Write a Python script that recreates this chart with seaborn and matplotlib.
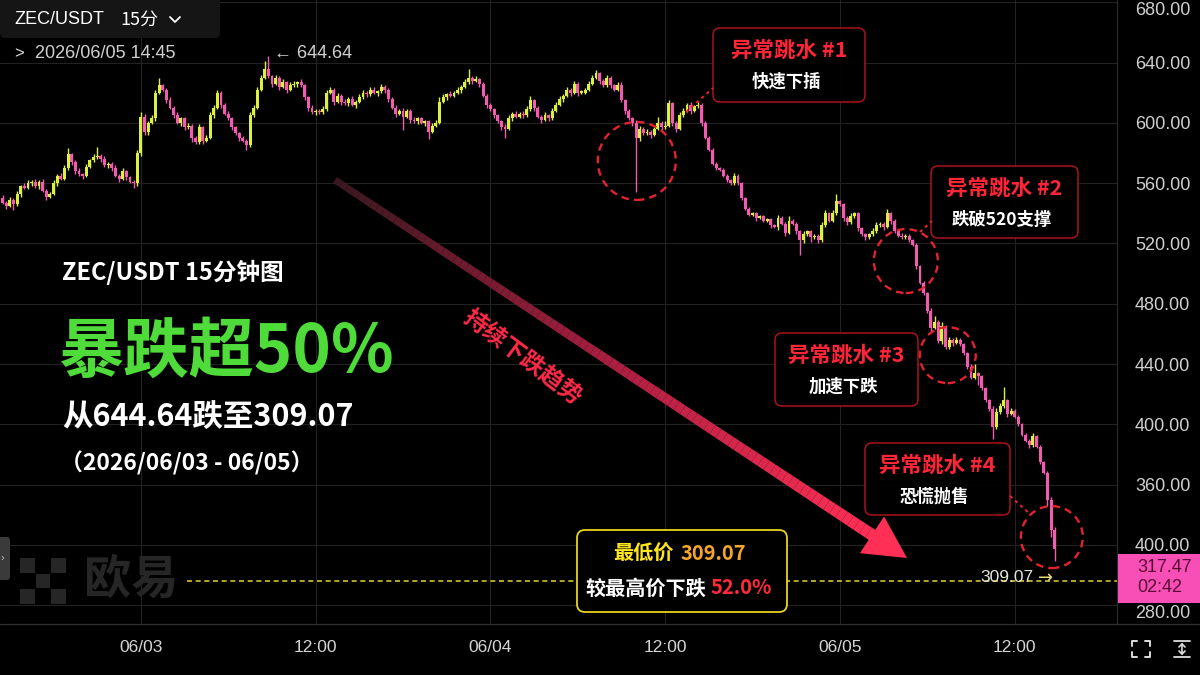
import numpy as np
import pandas as pd
import matplotlib
matplotlib.use("Agg")
import matplotlib.pyplot as plt
import seaborn as sns
from matplotlib.transforms import IdentityTransform
from matplotlib.patches import FancyBboxPatch, Ellipse, Polygon, Rectangle
from matplotlib.collections import LineCollection
from matplotlib.lines import Line2D
from matplotlib.colors import LinearSegmentedColormap

# ---------------- data (15-minute candles, ZEC/USDT) ----------------
first_offset = -38          # first candle, in 15-min steps from 2026/06/03 00:00
first_open = 550.0
closes = [
    547, 545, 549, 546, 553, 558, 557, 560, 561, 558,
    561, 555, 551, 553, 560, 565, 563, 570, 579, 574,
    568, 566, 565, 571, 575, 577, 578, 576, 572, 573,
    570, 565, 563, 568, 564, 561, 560, 580, 604, 594,
    600, 603, 620, 625, 622, 615, 610, 605, 600, 603,
    597, 598, 590, 587, 597, 588, 590, 605, 610, 620,
    612, 606, 603, 597, 593, 590, 588, 585, 605, 610,
    622, 630, 636, 631, 626, 630, 624, 627, 622, 625,
    626, 627, 625, 617, 610, 607, 608, 607, 609, 620,
    622, 614, 618, 614, 613, 616, 612, 614, 617, 620,
    619, 622, 620, 621, 624, 622, 616, 610, 606, 608,
    604, 608, 602, 601, 603, 600, 601, 594, 598, 600,
    614, 617, 619, 618, 620, 622, 624, 627, 630, 628,
    629, 626, 618, 612, 609, 605, 601, 597, 596, 603,
    606, 604, 606, 605, 609, 615, 610, 604, 602, 605,
    603, 608, 612, 616, 618, 622, 620, 626, 620, 620,
    622, 626, 630, 633, 628, 625, 630, 625, 622, 625,
    615, 608, 603, 600, 590, 596, 593, 594, 592, 596,
    600, 597, 598, 613, 600, 596, 605, 608, 612, 608,
    611, 612, 600, 590, 582, 573, 570, 569, 565, 562,
    560, 565, 560, 550, 543, 539, 540, 537, 538, 535,
    536, 532, 531, 537, 533, 527, 535, 533, 528, 522,
    526, 528, 524, 525, 522, 532, 540, 535, 540, 548,
    546, 537, 534, 538, 540, 530, 526, 524, 526, 528,
    532, 533, 531, 540, 535, 528, 525, 524, 525, 522,
    519, 505, 494, 487, 475, 464, 468, 455, 465, 451,
    456, 454, 456, 453, 447, 438, 431, 434, 432, 424,
    416, 410, 398, 408, 412, 416, 407, 409, 405, 400,
    393, 389, 386, 392, 385, 375, 368, 350, 330, 317.47,
]
wick_up = [
    2, 1, 2, 1, 2, 1, 2, 2, 1, 2,
    1, 2, 1, 1, 2, 1, 2, 2, 4, 1,
    1, 2, 1, 2, 1, 2, 6, 1, 2, 1,
    1, 2, 1, 2, 1, 1, 1, 2, 3, 2,
    1, 2, 2, 5, 1, 1, 2, 1, 2, 1,
    1, 2, 1, 1, 2, 1, 2, 2, 2, 2,
    1, 1, 2, 1, 1, 1, 1, 1, 2, 2,
    2, 2, 5, 8.64, 1, 2, 1, 2, 1, 2,
    2, 1, 2, 1, 1, 2, 1, 1, 2, 2,
    2, 1, 2, 1, 2, 1, 2, 1, 2, 2,
    1, 2, 2, 1, 2, 1, 1, 1, 2, 1,
    2, 1, 1, 2, 1, 1, 1, 1, 2, 2,
    3, 2, 1, 2, 1, 2, 1, 2, 6, 1,
    2, 1, 1, 1, 1, 1, 1, 1, 2, 2,
    1, 2, 1, 2, 2, 3, 1, 1, 1, 2,
    1, 2, 2, 2, 1, 2, 1, 2, 1, 2,
    1, 2, 2, 2, 1, 1, 2, 1, 1, 2,
    2, 1, 1, 1, 2, 2, 1, 2, 1, 1,
    4, 1, 3, 2, 1, 1, 2, 2, 1, 2,
    1, 2, 1, 1, 1, 1, 1, 1, 1, 1,
    1, 2, 1, 1, 1, 1, 1, 1, 1, 1,
    1, 1, 1, 2, 1, 1, 3, 1, 1, 1,
    2, 1, 1, 1, 1, 2, 2, 1, 2, 5,
    1, 1, 1, 2, 1, 1, 1, 1, 1, 2,
    2, 1, 1, 3, 1, 1, 1, 2, 1, 1,
    1, 1, 1, 1, 1, 2, 4, 1, 3, 1,
    2, 1, 2, 1, 1, 1, 2, 6, 1, 1,
    1, 1, 2, 3, 2, 9, 1, 2, 1, 1,
    1, 1, 1, 2, 1, 1, 1, 1, 2, 2,
]
wick_dn = [
    1, 2, 1, 4, 1, 2, 1, 1, 2, 1,
    2, 1, 2, 1, 1, 2, 1, 1, 1, 2,
    2, 1, 2, 1, 1, 1, 1, 2, 1, 2,
    2, 1, 2, 1, 2, 1, 3, 2, 2, 2,
    2, 1, 2, 1, 1, 2, 1, 2, 1, 2,
    2, 1, 3, 1, 1, 2, 1, 1, 2, 1,
    2, 1, 1, 2, 1, 2, 1, 3, 1, 1,
    1, 1, 1, 1, 2, 1, 2, 1, 2, 1,
    1, 2, 1, 2, 2, 1, 2, 1, 1, 1,
    1, 2, 1, 2, 1, 2, 1, 2, 1, 1,
    2, 1, 1, 2, 1, 2, 2, 1, 2, 1,
    9, 1, 2, 1, 2, 1, 2, 5, 1, 1,
    1, 1, 2, 1, 1, 1, 2, 1, 1, 2,
    1, 2, 1, 2, 1, 2, 1, 2, 6, 1,
    2, 1, 1, 2, 1, 1, 2, 1, 2, 1,
    2, 1, 1, 1, 2, 1, 2, 1, 2, 1,
    1, 1, 1, 1, 2, 1, 1, 2, 1, 1,
    1, 2, 1, 2, 36, 2, 1, 1, 2, 1,
    1, 2, 1, 1, 2, 2, 1, 1, 1, 2,
    1, 1, 2, 1, 1, 1, 1, 1, 1, 1,
    1, 1, 1, 1, 1, 1, 1, 2, 1, 1,
    1, 2, 1, 2, 1, 2, 1, 1, 2, 10,
    2, 1, 3, 1, 2, 1, 1, 1, 1, 1,
    1, 2, 2, 1, 1, 2, 1, 2, 1, 1,
    1, 1, 2, 1, 2, 1, 1, 1, 1, 1,
    1, 2, 1, 1, 1, 2, 1, 1, 2, 1,
    1, 2, 1, 1, 1, 1, 1, 1, 6, 1,
    1, 1, 8, 1, 1, 1, 2, 1, 1, 1,
    1, 1, 2, 1, 1, 1, 1, 4, 5, 8.4,
]
x_tick_pos = [0, 48, 96, 144, 192, 240]
x_tick_labels = ["06/03", "12:00", "06/04", "12:00", "06/05", "12:00"]
y_tick_pos = [280, 320, 360, 400, 440, 480, 520, 560, 600, 640, 680]
y_tick_labels = ["280.00", "400.00", "360.00", "400.00", "440.00", "480.00",
                 "520.00", "560.00", "600.00", "640.00", "680.00"]
high_price = 644.64
low_price = 309.07
last_price = 317.47
countdown = "02:42"
drop_pct = 52.0
last_time = "2026/06/05 14:45"
events_title = ["异常跳水 #1", "异常跳水 #2", "异常跳水 #3", "异常跳水 #4"]
events_sub = ["快速下插", "跌破520支撑", "加速下跌", "恐慌抛售"]

# ---------------- frame ----------------
n = len(closes)
df = pd.DataFrame({"t": np.arange(n) + first_offset, "close": closes})
df["open"] = [first_open] + closes[:-1]
df["high"] = np.maximum(df["open"], df["close"]) + np.array(wick_up)
df["low"] = np.minimum(df["open"], df["close"]) - np.array(wick_dn)
df["up"] = df["close"] >= df["open"]

UP, DOWN = "#dcf03c", "#f25cb0"
CJK = ["Noto Sans CJK SC", "DejaVu Sans"]
LAT = ["Liberation Sans", "DejaVu Sans"]

sns.set_theme(style="dark", rc={
    "axes.facecolor": "black", "figure.facecolor": "black",
    "grid.color": "#222222", "text.color": "white",
    "xtick.color": "#d5d5d5", "ytick.color": "#cfcfcf"})
plt.rcParams["font.family"] = CJK
plt.rcParams["axes.unicode_minus"] = False

W, H = 1200, 675
AX_R, AX_B = 1117, 624
fig = plt.figure(figsize=(12, 6.75), dpi=100)
fig.patch.set_facecolor("black")
ax = fig.add_axes([0, 1 - AX_B / H, AX_R / W, AX_B / H])
ax.set_facecolor("black")
ax.set_xlim(-38.7, 268.1)
ax.set_ylim(267.55, 681.46)

# grid & ticks
ax.set_xticks(x_tick_pos, x_tick_labels)
ax.set_yticks(y_tick_pos, y_tick_labels)
ax.grid(True, color="#222222", lw=0.8)
ax.set_axisbelow(True)
ax.yaxis.tick_right()
ax.tick_params(axis="y", length=0, pad=13, labelsize=13, labelcolor="#cfcfcf")
ax.tick_params(axis="x", length=0, pad=11.5, labelsize=12.5, labelcolor="#d5d5d5")
for lbl in ax.get_xticklabels() + ax.get_yticklabels():
    lbl.set_fontfamily(LAT)
ax.yaxis.get_major_ticks()[0].label2.set_va("top")
ax.yaxis.get_major_ticks()[-1].label2.set_va("top")
for s in ax.spines.values():
    s.set_visible(False)

# candles
colors = np.where(df["up"], UP, DOWN)
ax.vlines(df["t"], df["low"], df["high"], colors=colors, lw=1.0, zorder=2)
body = (df["close"] - df["open"]).abs().clip(lower=0.8)
ax.bar(df["t"], body, bottom=np.minimum(df["open"], df["close"]),
       width=0.8, color=colors, linewidth=0, zorder=3)

# ---------------- overlay helpers (pixel coords, y downward) ----------------
D = IdentityTransform()


def text(x, y, s, **kw):
    kw.setdefault("va", "center")
    return fig.text(x, H - y, s, transform=D, **kw)


def rbox(x0, y0, x1, y1, ec="none", fc="black", lw=1.0, r=6, z=5, alpha=1.0):
    p = FancyBboxPatch((x0, H - y1), x1 - x0, y1 - y0,
                       boxstyle=f"round,pad=0,rounding_size={r}",
                       ec=ec, fc=fc, lw=lw, transform=D, zorder=z, alpha=alpha)
    fig.add_artist(p)


def line(xs, ys, **kw):
    fig.add_artist(Line2D(xs, [H - y for y in ys], transform=D, **kw))


# axis frame lines
line([AX_R, AX_R], [0, AX_B], color="#2a2a2a", lw=0.9, zorder=2)
line([0, W], [AX_B, AX_B], color="#303030", lw=0.9, zorder=2)

# header
rbox(0, -10, 220, 38, fc="#151515", r=5, z=4)
text(14, 20, "ZEC/USDT", color="white", fontsize=13, family=LAT, zorder=6)
text(120, 20, "15分", color="white", fontsize=13, family=CJK, zorder=6)
line([170, 175, 180], [17, 22, 17], color="white", lw=1.3, zorder=6)
text(14, 54, ">", color="#dddddd", fontsize=12, family=LAT, zorder=6)
text(35, 54, last_time, color="#d0d0d0", fontsize=13, family=LAT, zorder=6)
text(274, 54, f"← {high_price:.2f}", color="#d0d0d0", fontsize=13, family=LAT, zorder=6)

# watermark logo
for cx, cy in [(0, 0), (2, 0), (1, 1), (0, 2), (2, 2)]:
    fig.add_artist(Rectangle((20 + cx * 15.5, H - (557 + (cy + 1) * 15.5)), 14.5, 14.5,
                             fc="#262626", ec="none", transform=D, zorder=1))
text(84, 580, "欧易", color="#262626", fontsize=34, fontweight="bold", family=CJK, zorder=1)
rbox(-6, 537, 10, 580, fc="#3a3a3a", r=3, z=4)
text(2, 558, "›", color="#bbbbbb", fontsize=8, family=LAT, ha="center", zorder=5)

# headline texts
text(62, 272, "ZEC/USDT 15分钟图", color="white", fontsize=17, fontweight="bold", zorder=6)
text(58, 352, "暴跌超50%", color="#4fdc3a", fontsize=47, fontweight="bold", zorder=6)
text(62, 417, f"从{high_price:.2f}跌至{low_price:.2f}", color="white", fontsize=22,
     fontweight="bold", zorder=6)
text(60, 463, "（2026/06/03 - 06/05）", color="white", fontsize=16.5, fontweight="bold", zorder=6)

# trend arrow with gradient
tail = np.array([335.0, 180.0])
tip = np.array([907.0, 558.0])
u = (tip - tail) / np.linalg.norm(tip - tail)
nv = np.array([-u[1], u[0]])
head_len, head_w = 42.0, 44.0
base = tip - u * head_len
N = 90
pts = tail + np.outer(np.linspace(0, 1, N + 1), (base + u * 3) - tail)
segs = [[(p[0], H - p[1]), (q[0], H - q[1])] for p, q in zip(pts[:-1], pts[1:])]
cmap = LinearSegmentedColormap.from_list("arr", ["#3a1820", "#a81e40", "#ff2f55"])
lc = LineCollection(segs, colors=cmap(np.linspace(0, 1, N)),
                    linewidths=np.linspace(7, 12, N) * 0.72,
                    capstyle="butt", transform=D, zorder=4)
fig.add_artist(lc)
hp = [tip, base + nv * head_w / 2, base - nv * head_w / 2]
fig.add_artist(Polygon([(p[0], H - p[1]) for p in hp], closed=True, fc="#ff2f55",
                       ec="none", transform=D, zorder=4))
text(523, 357, "持续下跌趋势", color="#ff2a48", fontsize=17, fontweight="bold",
     rotation=-37, rotation_mode="anchor", ha="center", zorder=6)

# lowest-price dashed line and label
line([187, AX_R], [581, 581], color="#d3c62a", lw=1.2, ls=(0, (3, 2.2)), zorder=3)
text(980, 578, f"{low_price:.2f}", color="#e4e4dc", fontsize=12.5, family=LAT, zorder=6)
text(1038, 578, "→", color="#e8e070", fontsize=13, family=["DejaVu Sans"], zorder=6)

# lowest-price box
rbox(577, 530, 787, 612, ec="#e8d41c", fc="black", lw=1.3, r=8, z=5)
text(674, 553, "最低价", color="#ffe61e", fontsize=14.5, fontweight="bold", ha="right", zorder=6)
text(681, 553, f"{low_price:.2f}", color="#f5a52a", fontsize=14.5, fontweight="bold", ha="left", zorder=6)
text(706, 588, "较最高价下跌", color="white", fontsize=14.5, fontweight="bold", ha="right", zorder=6)
text(711, 588, f"{drop_pct:.1f}%", color="#ff2a3a", fontsize=14.5, fontweight="bold", ha="left", zorder=6)

# event circles (data coords) and boxes
px_t = 1117 / (268.1 + 38.7)
px_p = 624 / (681.46 - 267.55)
circles = [(136.2, 574.7, 39), (210.1, 508.3, 32), (221.6, 445.9, 28), (250.2, 325.2, 31)]
for (ct, cp, r) in circles:
    ax.add_patch(Ellipse((ct, cp), 2 * r / px_t, 2 * r / px_p, fill=False, ec="#e3232f",
                         lw=1.7, ls=(0, (3.2, 2.2)), zorder=6, clip_on=False))
boxes = [(713, 28, 865, 102), (931, 166, 1078, 238), (775, 333, 918, 406), (865, 443, 1010, 515)]
for (x0, y0, x1, y1), ttl, sub in zip(boxes, events_title, events_sub):
    rbox(x0, y0, x1, y1, ec="#b8141f", fc="black", lw=1.1, r=7, z=5, alpha=0.92)
    cx = (x0 + x1) / 2
    text(cx, y0 + 22, ttl, color="#ff2436", fontsize=15.5, fontweight="bold", ha="center", zorder=6)
    text(cx - 3, y0 + 54, sub, color="white", fontsize=12.5, fontweight="bold", ha="center", zorder=6)
for xs, ys in [([686, 713], [112, 88]), ([920, 932], [232, 221]), ([1010, 1030], [496, 514])]:
    line(xs, ys, color="#e3232f", lw=1.5, ls=(0, (1.5, 1.8)), zorder=6)

# current price tag on the axis
fig.add_artist(Rectangle((AX_R + 1, H - 603), W - AX_R - 1, 49, fc="#f84fb6", ec="none",
                         transform=D, zorder=7))
text(1137, 567, f"{last_price:.2f}", color="#5a0b35", fontsize=13, family=LAT, zorder=8)
text(1137, 588, countdown, color="#5a0b35", fontsize=13, family=LAT, zorder=8)

# bottom-right icons
for (xa, ya, dx, dy) in [(1132, 641, 1, 1), (1150, 641, -1, 1), (1132, 657, 1, -1), (1150, 657, -1, -1)]:
    line([xa + 5 * dx, xa, xa], [ya, ya, ya + 5 * dy], color="#dddddd", lw=1.4, zorder=6)
line([1174, 1190], [641, 641], color="#dddddd", lw=1.3, zorder=6)
line([1174, 1190], [657, 657], color="#dddddd", lw=1.3, zorder=6)
line([1182, 1182], [644, 654], color="#dddddd", lw=1.2, zorder=6)
line([1179, 1182, 1185], [647, 644, 647], color="#dddddd", lw=1.2, zorder=6)
line([1179, 1182, 1185], [651, 654, 651], color="#dddddd", lw=1.2, zorder=6)

fig.savefig("out.png", dpi=100, facecolor="black")
